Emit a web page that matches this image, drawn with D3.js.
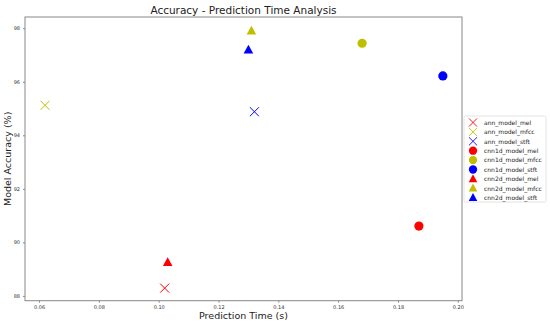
<!DOCTYPE html>
<html>
<head>
<meta charset="utf-8">
<script src="https://cdn.jsdelivr.net/npm/d3@7"></script>
<style>
  body { margin: 0; background: #fff; }
  text { font-family: "DejaVu Sans", sans-serif; }
</style>
</head>
<body>
<svg id="chart" width="550" height="325"></svg>
<script>
// data
let models = ['ann_model_mel', 'ann_model_mfcc', 'ann_model_stft',
  'cnn1d_model_mel', 'cnn1d_model_mfcc', 'cnn1d_model_stft',
  'cnn2d_model_mel', 'cnn2d_model_mfcc', 'cnn2d_model_stft'];
let predTime = [0.102, 0.062, 0.132, 0.187, 0.168, 0.195, 0.103, 0.131, 0.130];
let accuracy = [88.29, 95.12, 94.88, 90.61, 97.44, 96.22, 89.25, 97.90, 97.19];
let xTicks = [0.06, 0.08, 0.10, 0.12, 0.14, 0.16, 0.18, 0.20];
let yTicks = [88, 90, 92, 94, 96, 98];

let colorOf = { mel: '#ff0000', mfcc: '#bfbf00', stft: '#0000ff' };
let shapeOf = { ann: 'x', cnn1d: 'circle', cnn2d: 'triangle' };

let svg = d3.select('#chart');
let plotL = 25, plotR = 462, plotT = 17, plotB = 300.7;

let x = d3.scaleLinear().domain([0.0553, 0.2014]).range([plotL, plotR]);
let y = d3.scaleLinear().domain([87.82, 98.42]).range([plotB, plotT]);

// frame
svg.append('rect')
  .attr('x', plotL).attr('y', plotT)
  .attr('width', plotR - plotL).attr('height', plotB - plotT)
  .attr('fill', 'none').attr('stroke', '#888').attr('stroke-width', 1);

let xAxis = svg.append('g')
  .attr('transform', `translate(0,${plotB})`)
  .call(d3.axisBottom(x).tickValues(xTicks).tickFormat(d3.format('.2f')).tickSize(2).tickPadding(3));
let yAxis = svg.append('g')
  .attr('transform', `translate(${plotL},0)`)
  .call(d3.axisLeft(y).tickValues(yTicks).tickFormat(d3.format('d')).tickSize(2).tickPadding(3));
[xAxis, yAxis].forEach(a => {
  a.select('.domain').remove();
  a.selectAll('line').attr('stroke', '#888');
  a.selectAll('text').attr('font-size', 5).attr('fill', '#333')
    .style('font-family', '"DejaVu Sans", sans-serif');
});

function drawMarker(g, shape, color) {
  if (shape === 'circle') {
    g.append('circle').attr('r', 4.6).attr('fill', color);
  } else if (shape === 'triangle') {
    g.append('path').attr('d', 'M0,-5.2L4.8,3.6L-4.8,3.6Z').attr('fill', color);
  } else {
    g.append('path').attr('d', 'M-4.5,-4.5L4.5,4.5M-4.5,4.5L4.5,-4.5')
      .attr('stroke', color).attr('stroke-width', 1).attr('fill', 'none');
  }
}

models.forEach((m, i) => {
  let parts = m.split('_');
  let g = svg.append('g').attr('transform', `translate(${x(predTime[i])},${y(accuracy[i])})`);
  drawMarker(g, shapeOf[parts[0]], colorOf[parts[2]]);
});

// titles
svg.append('text').attr('x', 243.5).attr('y', 14).attr('text-anchor', 'middle')
  .attr('font-size', 10.5).attr('fill', '#222').text('Accuracy - Prediction Time Analysis');
svg.append('text').attr('x', 243.5).attr('y', 319).attr('text-anchor', 'middle')
  .attr('font-size', 9.5).attr('fill', '#222').text('Prediction Time (s)');
svg.append('text').attr('transform', `translate(11,${(plotT + plotB) / 2}) rotate(-90)`)
  .attr('text-anchor', 'middle').attr('font-size', 9.5).attr('fill', '#222').text('Model Accuracy (%)');

// legend
let lg = svg.append('g');
lg.append('rect').attr('x', 464).attr('y', 116).attr('width', 82).attr('height', 86)
  .attr('fill', '#fff').attr('stroke', '#ddd').attr('stroke-width', 0.8).attr('rx', 1.5);
models.forEach((m, i) => {
  let parts = m.split('_');
  let yy = 122.5 + i * 9.4;
  let g = lg.append('g').attr('transform', `translate(473,${yy}) scale(0.9)`);
  drawMarker(g, shapeOf[parts[0]], colorOf[parts[2]]);
  lg.append('text').attr('x', 484).attr('y', yy + 2.2).attr('font-size', 6)
    .attr('fill', '#222').text(m);
});
</script>
</body>
</html>
